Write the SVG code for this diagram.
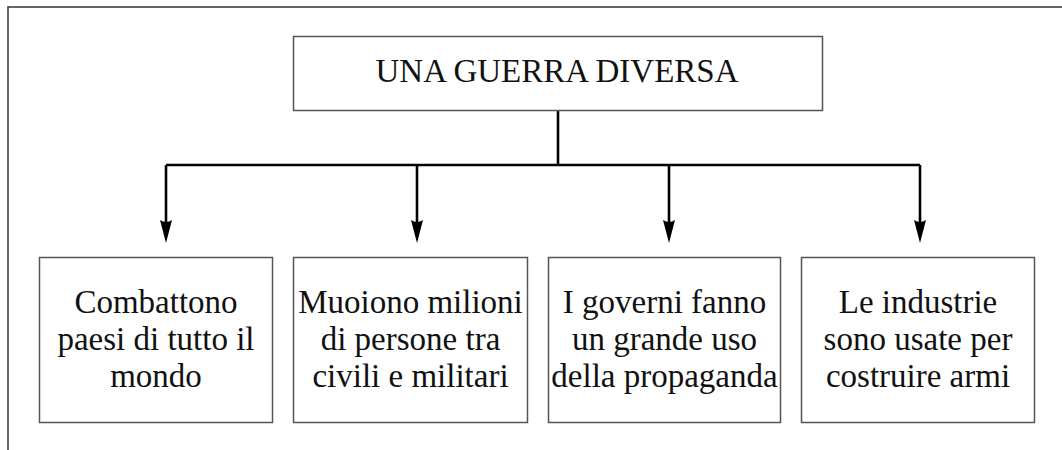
<svg xmlns="http://www.w3.org/2000/svg" width="1062" height="450" viewBox="0 0 1062 450">
  <style>
    .frame { fill: none; stroke: #333; stroke-width: 1.5; }
    .box { fill: #fff; stroke: #555; stroke-width: 1.5; }
    .label { font-family: "Liberation Serif", "Times New Roman", serif; font-size: 33px; fill: #111; text-anchor: middle; }
    .conn { fill: none; stroke: #000; stroke-width: 2.6; }
    .head { fill: #000; }
  </style>
  <rect width="1062" height="450" fill="#fff"/>
  <g id="frame">
    <path class="frame" d="M8,450 L8,7 L1062,7"/>
  </g>
  <g id="connectors">
    <path class="conn" d="M558,111 L558,165"/>
    <path class="conn" d="M166,165 L920,165"/>
    <path class="conn" d="M166,165 L166,222"/>
    <path class="conn" d="M417,165 L417,222"/>
    <path class="conn" d="M669,165 L669,222"/>
    <path class="conn" d="M920,165 L920,222"/>
    <path class="head" d="M166,243 L160,220 Q166,224 172,220 Z"/>
    <path class="head" d="M417,243 L411,220 Q417,224 423,220 Z"/>
    <path class="head" d="M669,243 L663,220 Q669,224 675,220 Z"/>
    <path class="head" d="M920,243 L914,220 Q920,224 926,220 Z"/>
  </g>
  <g id="node-root">
    <rect class="box" x="293.5" y="36.5" width="529" height="74"/>
    <text class="label" x="557" y="82">UNA GUERRA DIVERSA</text>
  </g>
  <g id="node-1">
    <rect class="box" x="39.5" y="257.5" width="233" height="165"/>
    <text class="label" x="156" y="313">Combattono</text>
    <text class="label" x="156" y="350">paesi di tutto il</text>
    <text class="label" x="156" y="387">mondo</text>
  </g>
  <g id="node-2">
    <rect class="box" x="293.5" y="257.5" width="234" height="165"/>
    <text class="label" x="410.5" y="313">Muoiono milioni</text>
    <text class="label" x="410.5" y="350">di persone tra</text>
    <text class="label" x="410.5" y="387">civili e militari</text>
  </g>
  <g id="node-3">
    <rect class="box" x="548.5" y="257.5" width="232" height="165"/>
    <text class="label" x="664.5" y="313">I governi fanno</text>
    <text class="label" x="664.5" y="350">un grande uso</text>
    <text class="label" x="664.5" y="387">della propaganda</text>
  </g>
  <g id="node-4">
    <rect class="box" x="801.5" y="257.5" width="233" height="165"/>
    <text class="label" x="918" y="313">Le industrie</text>
    <text class="label" x="918" y="350">sono usate per</text>
    <text class="label" x="918" y="387">costruire armi</text>
  </g>
</svg>
